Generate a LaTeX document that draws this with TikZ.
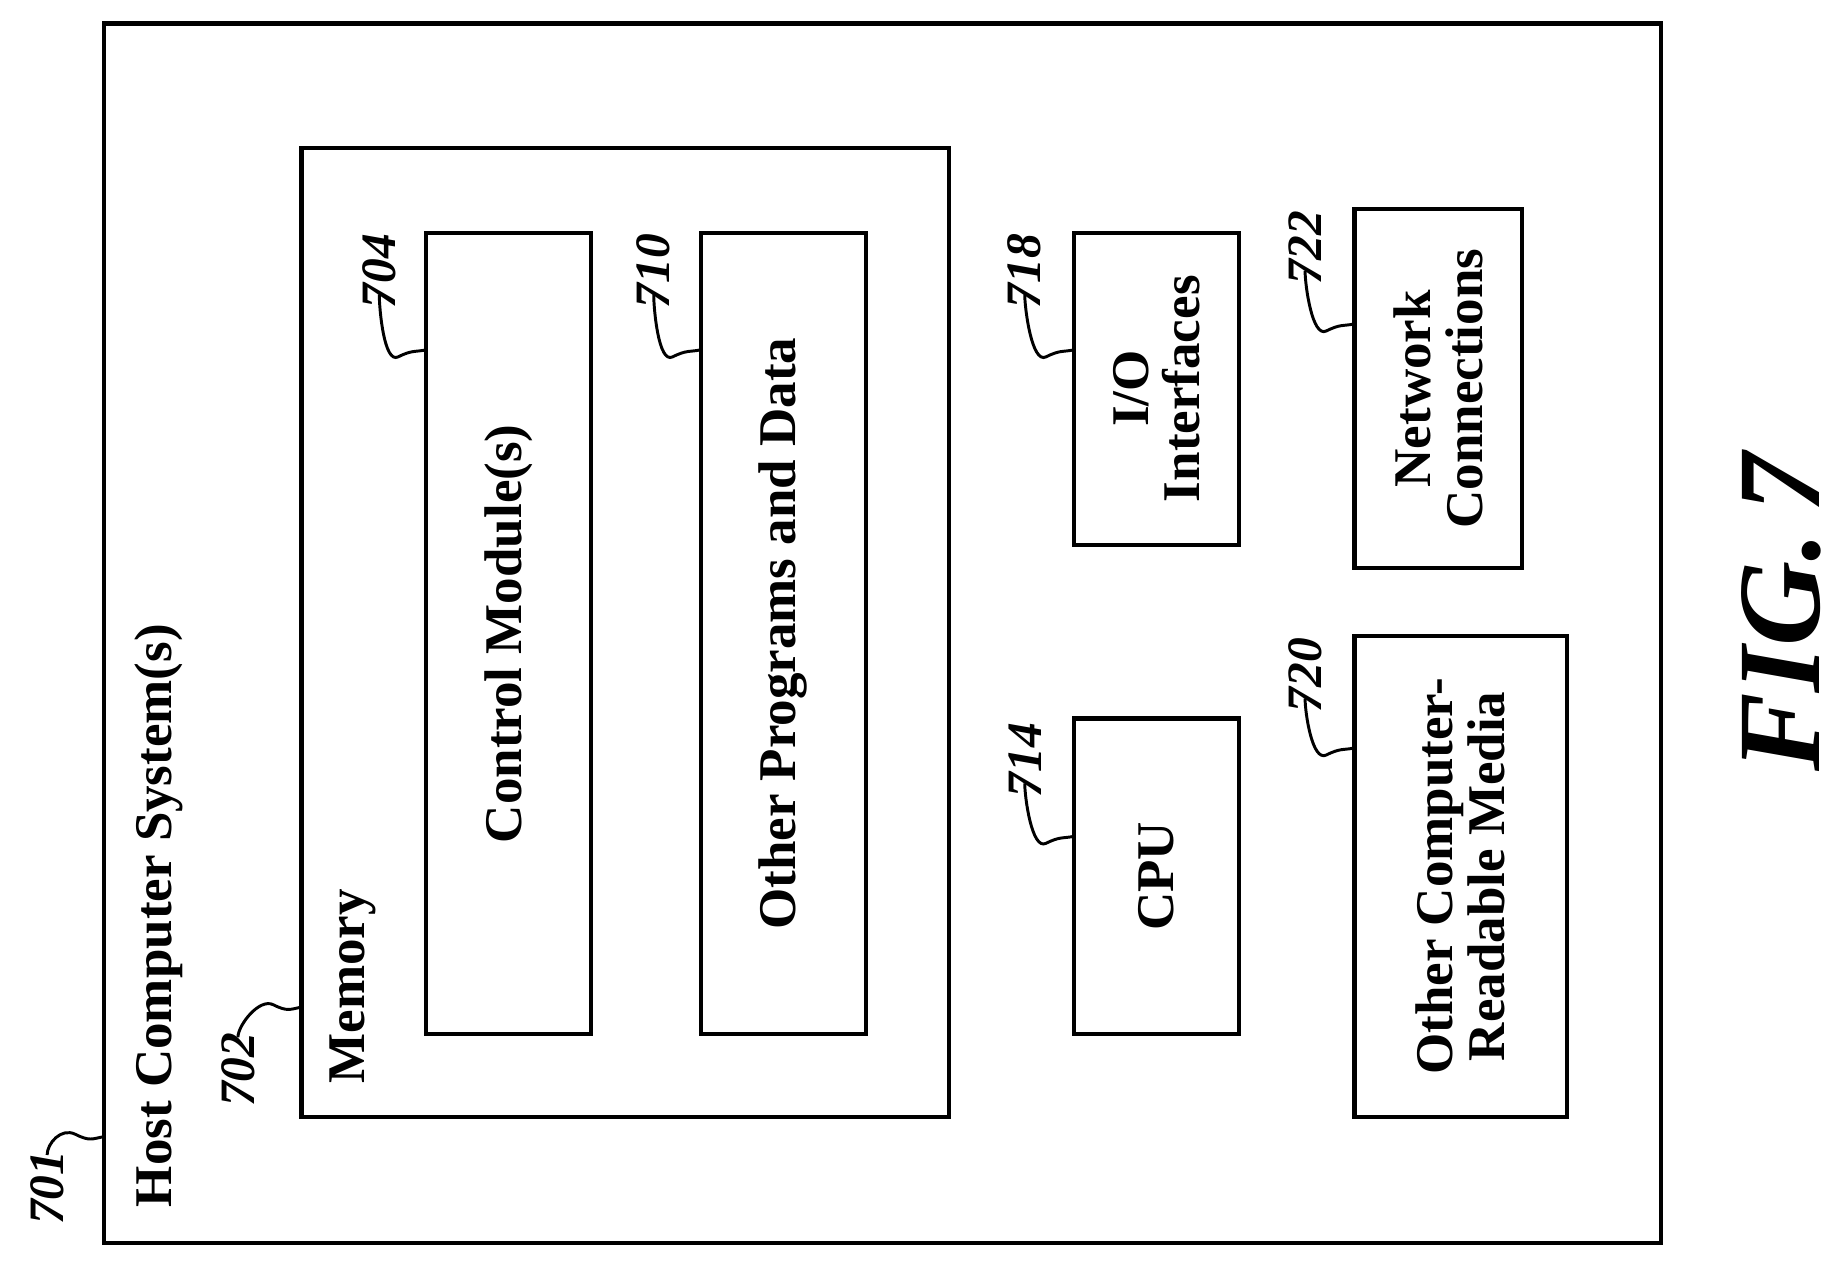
\documentclass[tikz,border=0pt]{standalone}
\usepackage{fontspec}
\setmainfont{Liberation Serif}
\begin{document}
\begin{tikzpicture}[x=1pt,y=-1pt,
  box/.style={draw,line width=3.5pt},
  txt/.style={rotate=90,font=\bfseries\fontsize{45}{44}\selectfont,align=center},
  num/.style={rotate=90,font=\bfseries\itshape\fontsize{42}{42}\selectfont,inner sep=0pt,anchor=west},
  sq/.style={line width=2.5pt}]
\useasboundingbox (0,0) rectangle (1563,1073);
\draw[box] (88,20) rectangle (1410,1055);
\node[txt,anchor=west,inner sep=0pt] (host) at (135,1025) {Host Computer System(s)};
\draw[box] (256,126) rectangle (806,948);
\node[txt,anchor=west,inner sep=0pt] (mem) at (300,920) {Memory};
\node[box,minimum width=140pt,minimum height=680pt,inner sep=0pt] (cm) at (432,538) {};
\node[txt] at (cm.center) {Control Module(s)};
\node[box,minimum width=140pt,minimum height=680pt,inner sep=0pt] (op) at (665,538) {};
\node[txt] at (op.center) {Other Programs and Data};
\node[box,minimum width=140pt,minimum height=268pt,inner sep=0pt] (cpu) at (982,744) {};
\node[txt] at (cpu.center) {CPU};
\node[box,minimum width=140pt,minimum height=265pt,inner sep=0pt] (io) at (982,330) {};
\node[txt] at (io.center) {I/O\\Interfaces};
\node[box,minimum width=142pt,minimum height=305pt,inner sep=0pt] (net) at (1221,330) {};
\node[txt] at (net.center) {Network\\Connections};
\node[box,minimum width=180pt,minimum height=408pt,inner sep=0pt] (crm) at (1240,744) {};
\node[txt] at (crm.center) {Other Computer-\\Readable Media};
\node[rotate=90,font=\bfseries\itshape\fontsize{100}{100}\selectfont,inner sep=0pt] (fig) at (1512,520) {FIG.\,7};
% labels
\node[num] (n701) at (40,1040) {701};
\node[num] (n702) at (202,940) {702};
\node[num] (n704) at (322,262) {704};
\node[num] (n710) at (555,262) {710};
\node[num] (n714) at (870,677) {714};
\node[num] (n718) at (870,262) {718};
\node[num] (n722) at (1108,242) {722};
\node[num] (n720) at (1108,605) {720};
% squiggles from top end of the lower labels
\foreach \n/\b/\y in {701/88/965, 702/256/855}{
  \coordinate (e\n) at (\b,\y);
  \draw[sq] ([yshift=-4pt]n\n.east) .. controls +(0,-10) and +(-12,-6) .. ([xshift=-24pt,yshift=2pt]e\n) .. controls +(12,6) and +(-10,2) .. (e\n);
}
\foreach \n/\b/\y in {704/362/297, 710/595/297, 714/912/710, 718/912/297, 722/1150/275, 720/1150/635}{
  \coordinate (e\n) at (\b,\y);
  \draw[sq] ([yshift=12pt]n\n.west) .. controls +(0,12) and +(-12,6) .. ([xshift=-24pt,yshift=-6pt]e\n) .. controls +(12,-6) and +(-10,2) .. (e\n);
}
\end{tikzpicture}
\end{document}
